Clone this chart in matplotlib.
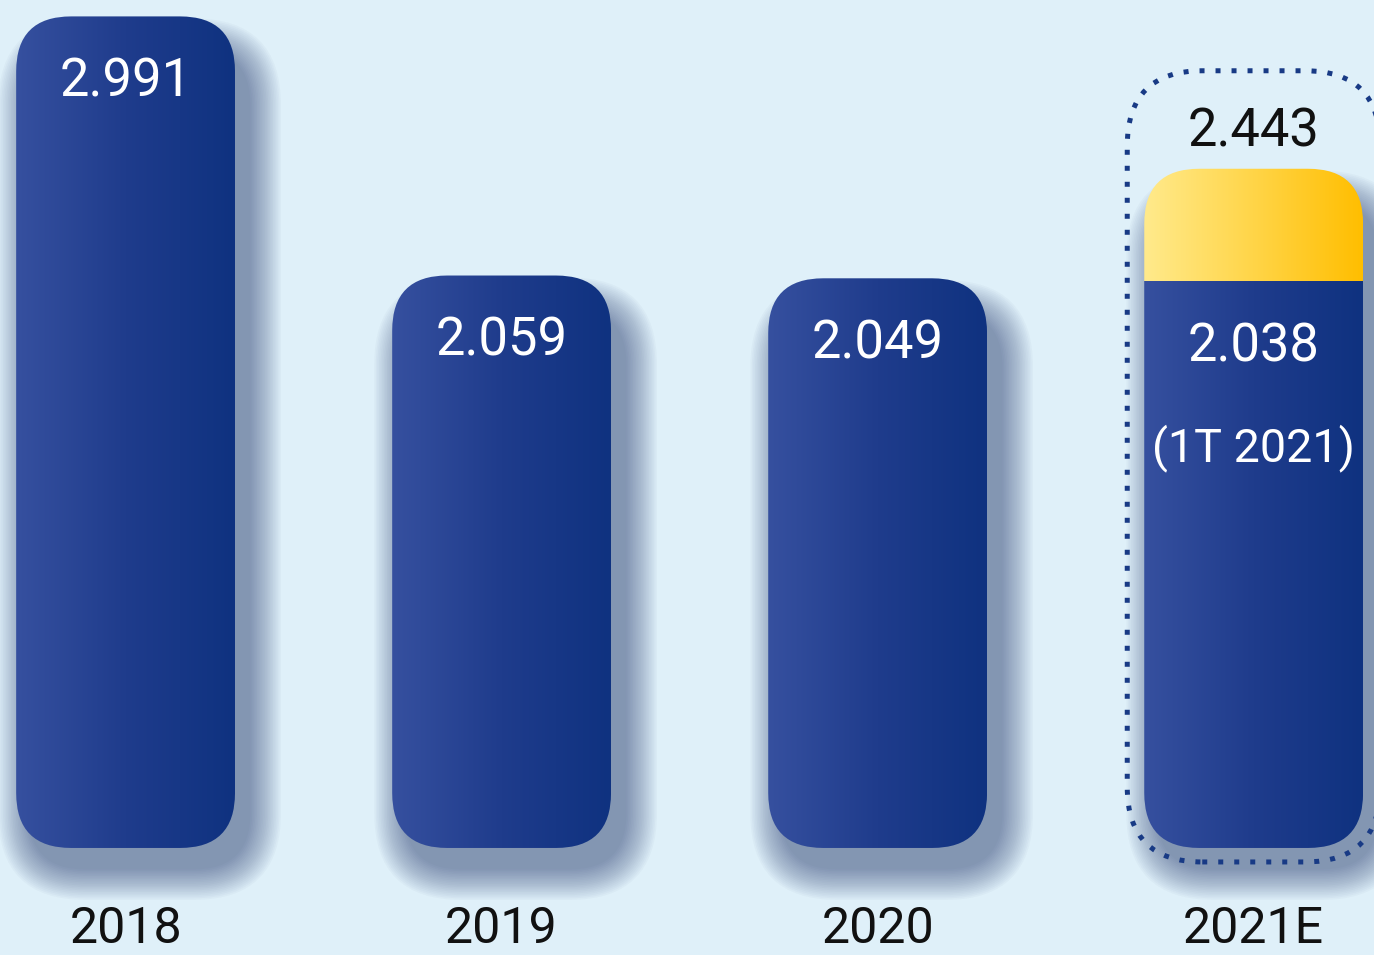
import numpy as np
import matplotlib
matplotlib.use("Agg")
import matplotlib.pyplot as plt
from matplotlib import font_manager
from matplotlib.patches import FancyBboxPatch
from matplotlib.colors import LinearSegmentedColormap

# data
years = ["2018", "2019", "2020", "2021E"]
values = [2.991, 2.059, 2.049, 2.038]
estimate_total = 2.443          # full 2021E estimate (yellow top)
estimate_note = "(1T 2021)"

# font: narrow font if present, otherwise Roboto a bit smaller
names = {f.name for f in font_manager.fontManager.ttflist}
if "Liberation Sans Narrow" in names:
    fam, k = "Liberation Sans Narrow", 1.0
else:
    fam, k = "Roboto", 0.86

bg = "#dff0f9"
blue_cmap = LinearSegmentedColormap.from_list("b", ["#36509f", "#1f3c8c", "#0f3280"])
yellow_cmap = LinearSegmentedColormap.from_list("y", ["#ffea8c", "#ffd548", "#ffbe00"])

fig = plt.figure(figsize=(13.74, 9.55), dpi=100, facecolor=bg)
ax = fig.add_axes([0, 0, 1, 1])
ax.set_facecolor(bg)

xmin, xmax = -0.334, 3.320
ymin, ymax = -0.385, 3.050
px_x = (xmax - xmin) / 1374     # data units per pixel
px_y = (ymax - ymin) / 955
asp = px_y / px_x

w = 0.582
r = 55 * px_x
grad = np.linspace(0, 1, 256).reshape(1, -1)

def rbox(x0, y0, ww, hh, rad, **kw):
    return FancyBboxPatch((x0, y0), ww, hh,
                          boxstyle=f"round,pad=0,rounding_size={rad}",
                          mutation_aspect=asp, **kw)

tops = values[:3] + [estimate_total]

for i, top in enumerate(tops):
    x0 = i - w / 2
    # soft shadow, shifted right/down
    n = 20
    for j in range(n):
        p = (j + 1) * 1.6 * px_x
        sh = rbox(x0 + 14 * px_x - p, -20 * px_y - p * asp, w + 2 * p,
                  top + 2 * p * asp - 14 * px_y, r + p,
                  fc="#1b2f66", ec="none", alpha=0.026, zorder=1)
        ax.add_patch(sh)
    bar = rbox(x0, 0, w, top, r, fc="none", ec="none", zorder=3)
    ax.add_patch(bar)
    im = ax.imshow(grad, cmap=blue_cmap, extent=[x0, x0 + w, 0, values[i]],
                   aspect="auto", interpolation="bicubic", zorder=3)
    im.set_clip_path(bar)
    if top > values[i]:
        im2 = ax.imshow(grad, cmap=yellow_cmap,
                        extent=[x0, x0 + w, values[i], top],
                        aspect="auto", interpolation="bicubic", zorder=3)
        im2.set_clip_path(bar)

    # value labels
    ax.text(i, values[i] - 80 * px_y, f"{values[i]:.3f}", color="white",
            ha="center", va="baseline", fontsize=44 * k, family=fam, zorder=5)
    ax.text(i, -0.342, years[i], color="#111111", ha="center", va="baseline",
            fontsize=42 * k, family=fam, zorder=5)

# 2021E extras
ax.text(3, values[3] - 80 * px_y - 100 * px_y, estimate_note, color="white",
        ha="center", va="baseline", fontsize=39 * k, family=fam, zorder=5)
ax.text(3, estimate_total + 22 * px_y, f"{estimate_total:.3f}", color="#111111",
        ha="center", va="baseline", fontsize=44 * k, family=fam, zorder=5)

# dotted frame round the estimate (almost invisible face so the curves are not clipped badly)
padx = 17 * px_x
box = rbox(3 - w / 2 - padx, -14 * px_y, w + 2 * padx,
           estimate_total + 98 * px_y + 14 * px_y, 75 * px_x,
           fc=(1, 1, 1, 0.002), ec="#183a85", lw=3.6,
           linestyle=(0, (1, 2.2)), zorder=4)
ax.add_patch(box)

ax.set_xlim(xmin, xmax)
ax.set_ylim(ymin, ymax)
ax.axis("off")

fig.savefig("out.png", dpi=100, facecolor=bg)
